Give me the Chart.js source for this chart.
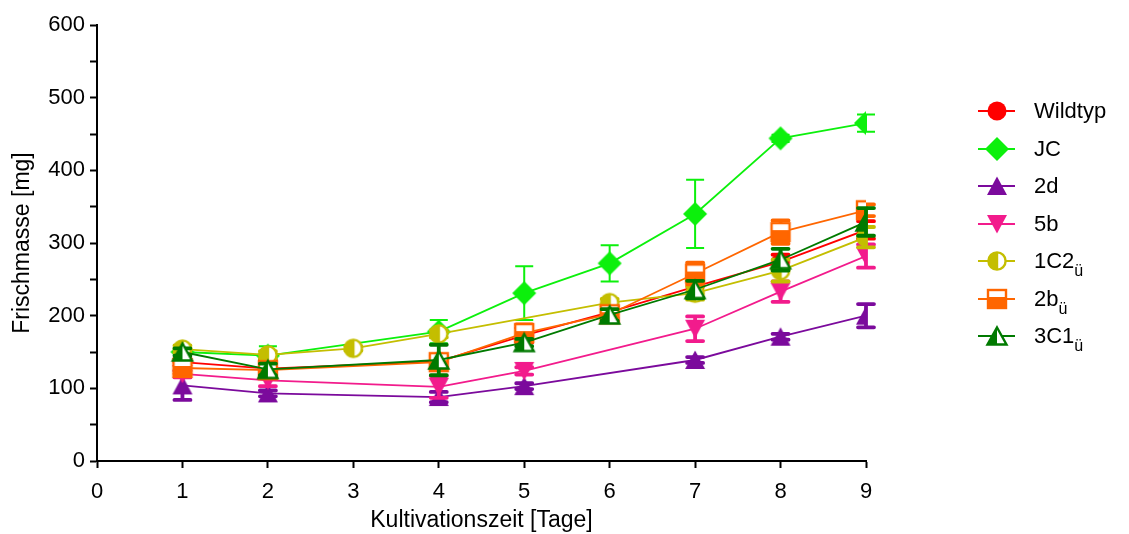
<!DOCTYPE html>
<html><head><meta charset="utf-8">
<script src="https://cdn.jsdelivr.net/npm/chart.js@4/dist/chart.umd.min.js"></script>
<style>
html,body{margin:0;padding:0;background:#fff;}
#wrap{position:relative;width:1129px;height:534px;}
#c{position:absolute;left:0;top:0;}
.item{position:absolute;left:977px;height:26px;display:flex;align-items:center;font-family:"Liberation Sans",Arial,sans-serif;font-size:22px;color:#000;white-space:nowrap;}
.item canvas{display:block;}
.item span{margin-left:17px;line-height:26px;}
.item sub{font-size:16px;vertical-align:-8px;line-height:0;}
</style></head>
<body>
<div id="wrap"><canvas id="c" width="1129" height="534"></canvas><div id="legend"></div></div>
<script>
// ---- data ----
const days = [1, 2, 3, 4, 5, 6, 7, 8, 9];
const seriesNames = ['Wildtyp', 'JC', '2d', '5b', '1C2', '2b', '3C1'];
const seriesSubs  = ['', '', '', '', 'ü', 'ü', 'ü'];
const wildtyp     = [136, 127, null, 137, 173, 205, 240, 274, 318];
const wildtypErr  = [5, 12, 0, 8, 10, 8, 15, 10, 12];
const jc          = [150, 145, null, 178, 231, 272, 340, 444, 465];
const jcErr       = [5, 13, 0, 16, 37, 25, 47, 5, 12];
const s2d         = [104, 93, null, 88, 103, null, 139, 171, 200];
const s2dErr      = [20, 4, 0, 7, 4, 0, 4, 4, 16];
const s5b         = [120, 111, null, 102, 124, null, 182, 233, 282];
const s5bErr      = [5, 8, 0, 15, 5, 0, 17, 14, 16];
const s1C2        = [154, 146, 155, 175, null, 218, 231, 262, 308];
const s1C2Err     = [5, 5, 3, 5, 0, 5, 9, 15, 14];
const s2b         = [128, 125, null, 136, 176, 202, 258, 315, 345];
const s2bErr      = [8, 8, 0, 8, 12, 8, 15, 16, 8];
const s3C1        = [150, 126, null, 139, 163, 201, 236, 277, 329];
const s3C1Err     = [5, 8, 0, 21, 5, 8, 12, 15, 19];
const yTicks = [0, 100, 200, 300, 400, 500, 600];
const xTicks = [0, 1, 2, 3, 4, 5, 6, 7, 8, 9];

const F = '"Liberation Sans", Arial, sans-serif';
const colors = ['#FF0000', '#0CF00C', '#7B0A9C', '#F21B8C', '#C4BE00', '#FF6600', '#007A00'];
const kinds = ['circle', 'diamond', 'triUp', 'triDown', 'halfCircle', 'halfSquare', 'halfTri'];
const values = [wildtyp, jc, s2d, s5b, s1C2, s2b, s3C1];
const errs = [wildtypErr, jcErr, s2dErr, s5bErr, s1C2Err, s2bErr, s3C1Err];

function makeMarker(kind, color) {
  const S = 30;
  const cv = document.createElement('canvas');
  cv.width = S; cv.height = S;
  const g = cv.getContext('2d');
  const c = S / 2;
  g.fillStyle = color; g.strokeStyle = color; g.lineWidth = 2.4;
  const tw = 10, th = 9;
  if (kind === 'circle') {
    g.beginPath(); g.arc(c, c, 9.5, 0, Math.PI * 2); g.fill();
  } else if (kind === 'diamond') {
    g.beginPath(); g.moveTo(c, c - 12); g.lineTo(c + 12, c); g.lineTo(c, c + 12); g.lineTo(c - 12, c); g.closePath(); g.fill();
  } else if (kind === 'triUp') {
    g.beginPath(); g.moveTo(c, c - th - 0.5); g.lineTo(c + tw, c + th); g.lineTo(c - tw, c + th); g.closePath(); g.fill();
  } else if (kind === 'triDown') {
    g.beginPath(); g.moveTo(c, c + th + 0.5); g.lineTo(c + tw, c - th); g.lineTo(c - tw, c - th); g.closePath(); g.fill();
  } else if (kind === 'halfCircle') {
    const r = 8.6;
    g.fillStyle = '#fff'; g.beginPath(); g.arc(c, c, r, 0, Math.PI * 2); g.fill();
    g.fillStyle = color; g.beginPath(); g.moveTo(c, c - r); g.arc(c, c, r, -Math.PI / 2, Math.PI / 2, true); g.closePath(); g.fill();
    g.beginPath(); g.arc(c, c, r, 0, Math.PI * 2); g.stroke();
    g.beginPath(); g.moveTo(c, c - r); g.lineTo(c, c + r); g.stroke();
  } else if (kind === 'halfSquare') {
    g.fillStyle = '#fff'; g.fillRect(c - 9, c - 9, 18, 18);
    g.fillStyle = color; g.fillRect(c - 9, c - 2, 18, 11);
    g.strokeRect(c - 9, c - 9, 18, 18);
  } else if (kind === 'halfTri') {
    const a = th - 0.5, b = tw - 0.5;
    g.fillStyle = '#fff';
    g.beginPath(); g.moveTo(c, c - a); g.lineTo(c + b, c + a); g.lineTo(c - b, c + a); g.closePath(); g.fill();
    g.fillStyle = color;
    g.beginPath(); g.moveTo(c, c - a); g.lineTo(c, c + a); g.lineTo(c - b, c + a); g.closePath(); g.fill();
    g.beginPath(); g.moveTo(c, c - a); g.lineTo(c + b, c + a); g.lineTo(c - b, c + a); g.closePath(); g.stroke();
  }
  return cv;
}

const markers = kinds.map((k, i) => makeMarker(k, colors[i]));

const datasets = seriesNames.map((name, i) => {
  const pts = [];
  days.forEach((d, j) => { if (values[i][j] !== null) pts.push({ x: d, y: values[i][j], e: errs[i][j] }); });
  return {
    label: name + seriesSubs[i],
    data: pts,
    borderColor: colors[i],
    backgroundColor: colors[i],
    borderWidth: 1.8,
    pointStyle: markers[i],
    pointRadius: 10,
    pointHoverRadius: 10,
    errWidth: i === 1 ? 2 : 3.8,
    order: 7 - i,
    tension: 0,
    fill: false
  };
});

const errPlugin = {
  id: 'errbars',
  beforeDatasetDraw(chart, args) {
    const ds = chart.data.datasets[args.index];
    const ys = chart.scales.y;
    const ctx = chart.ctx;
    ctx.save();
    ctx.strokeStyle = ds.borderColor;
    ctx.lineWidth = ds.errWidth;
    ctx.lineCap = ds.errWidth > 2 ? 'round' : 'butt';
    args.meta.data.forEach((pt, i) => {
      const r = ds.data[i];
      if (!r || !r.e) return;
      const x = pt.x;
      const yt = ys.getPixelForValue(r.y + r.e);
      const yb = ys.getPixelForValue(r.y - r.e);
      const hw = ds.errWidth > 2 ? 8 : 9;
      ctx.beginPath();
      ctx.moveTo(x, yt); ctx.lineTo(x, yb);
      ctx.moveTo(x - hw, yt); ctx.lineTo(x + hw, yt);
      ctx.moveTo(x - hw, yb); ctx.lineTo(x + hw, yb);
      ctx.stroke();
    });
    ctx.restore();
  }
};

new Chart(document.getElementById('c'), {
  type: 'line',
  data: { datasets },
  plugins: [errPlugin],
  options: {
    responsive: false,
    animation: false,
    events: [],
    layout: { padding: { left: 0, top: 25, right: 263, bottom: 0 } },
    plugins: { legend: { display: false }, tooltip: { enabled: false } },
    scales: {
      x: {
        type: 'linear', min: 0, max: 9,
        afterBuildTicks(s) { s.ticks = xTicks.map(v => ({ value: v })); },
        ticks: { color: '#000', font: { size: 22, family: F }, padding: 11, maxRotation: 0, autoSkip: false },
        grid: { display: true, drawOnChartArea: false, drawTicks: true, tickLength: 7, tickColor: '#000', tickWidth: 2 },
        border: { display: true, color: '#000', width: 2 },
        title: { display: true, text: 'Kultivationszeit [Tage]', color: '#000', font: { size: 23, family: F }, padding: { top: 0, bottom: 0 } },
        afterFit(s) { s.height = 73; }
      },
      y: {
        min: 0, max: 600,
        afterBuildTicks(s) {
          const t = [];
          for (let v = 0; v <= 600; v += 50) t.push({ value: v });
          s.ticks = t;
        },
        ticks: { color: '#000', font: { size: 22, family: F }, padding: 5, autoSkip: false,
                 callback: v => yTicks.includes(v) ? String(v) : '' },
        grid: { display: true, drawOnChartArea: false, drawTicks: true, tickLength: 7, tickColor: '#000', tickWidth: 2 },
        border: { display: true, color: '#000', width: 2 },
        title: { display: true, text: 'Frischmasse [mg]', color: '#000', font: { size: 23, family: F }, padding: { top: 9, bottom: 0 } },
        afterFit(s) { s.width = 97; }
      }
    }
  }
});

// legend (HTML, real text with subscripts)
const legend = document.getElementById('legend');
const legendTop = 111, legendStep = 37.5;
seriesNames.forEach((name, i) => {
  const it = document.createElement('div');
  it.className = 'item';
  it.style.top = (legendTop + i * legendStep - 13) + 'px';
  const cv = document.createElement('canvas');
  cv.width = 40; cv.height = 26;
  const g = cv.getContext('2d');
  g.strokeStyle = colors[i]; g.lineWidth = 2;
  g.beginPath(); g.moveTo(1, 13); g.lineTo(38, 13); g.stroke();
  g.drawImage(markers[i], 20 - 15, 13 - 15);
  it.appendChild(cv);
  const sp = document.createElement('span');
  sp.textContent = name;
  if (seriesSubs[i]) { const sb = document.createElement('sub'); sb.textContent = seriesSubs[i]; sp.appendChild(sb); }
  it.appendChild(sp);
  legend.appendChild(it);
});
</script>
</body></html>
